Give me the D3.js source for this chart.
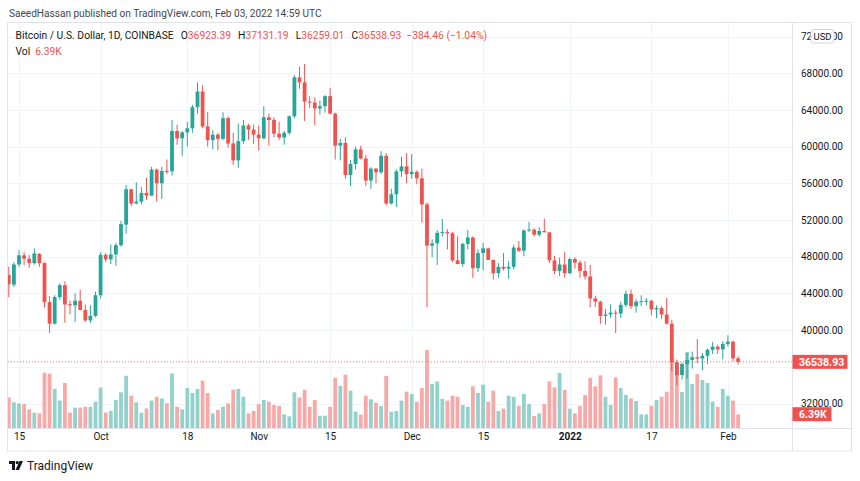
<!DOCTYPE html>
<html><head><meta charset="utf-8">
<script src="https://cdn.jsdelivr.net/npm/d3@7"></script>
<style>
html,body{margin:0;padding:0;background:#fff;}
svg{display:block;font-family:Roboto,"Liberation Sans",sans-serif;}
</style></head>
<body>
<svg id="chart" width="860" height="481"></svg>
<script>
// ---------- DATA (BTC/USD daily, Coinbase, Sep 13 2021 – Feb 3 2022) ----------
const firstDay = "2021-09-13";
const lastDay  = "2022-02-03";
const openP  = [46000,44950,47150,48150,47780,47300,48300,47300,43050,40700,43600,44900,42820,42700,43200,42200,41050,41550,
  43800,48200,47700,48250,49250,51500,55350,53800,54000,54950,54650,57500,56000,57350,57300,61700,60900,61550,62000,64300,66000,62200,60700,61300,60850,63100,60350,58500,60600,62300,61850,
  61300,60900,63200,62900,61400,61000,61500,63300,67550,67000,64900,64800,64150,64400,65500,63600,60100,60400,56900,58100,59700,58700,56300,57600,57200,59000,53800,54800,57300,57850,
  57000,57250,56550,53700,49200,49450,50600,50700,50550,47600,47200,49400,50100,46750,48400,48900,47650,46200,46900,46700,46900,49000,48650,50850,50950,50400,50800,50650,47600,46450,47150,
  46200,47750,47350,46450,45850,43450,43100,41550,41700,41900,41800,42750,43950,42600,43100,43150,43200,42250,42400,41700,40700,36500,35100,36300,36750,37050,36900,37200,37850,38200,37900,
  38500,38750,36923.39];
const highP  = [46900,47400,48700,48500,48200,48900,48400,47400,43700,43800,45100,45300,43200,44000,44400,42800,42700,44200,
  48500,48400,49350,49500,51900,55800,55400,56100,55600,56600,57800,57600,57800,58600,62900,62400,61700,62700,64550,67000,66700,63750,61800,61500,63750,63300,61500,62500,62900,62500,62400,
  62300,64400,63600,63200,62700,61700,63400,67800,68700,69000,65500,65400,65000,65600,66400,63700,60850,61000,58500,60000,60100,59100,57750,57650,59500,59300,55400,57500,58900,59300,
  59200,57400,57600,53900,49900,50900,52100,51000,50700,50200,49500,50900,50200,48800,49500,49000,47700,47300,48400,47500,49300,49700,51000,51800,51100,51200,52150,50700,48100,47900,48500,
  47900,47950,47600,47500,47100,43750,43200,42300,42800,42200,43100,44300,44400,43400,43800,43500,43300,42700,42600,43500,41100,36800,36500,37500,37650,39000,37500,38000,38700,38400,38800,
  39450,38850,37131.19];
const lowP   = [43600,44700,46900,47100,46800,47150,46900,42500,39700,40600,43300,40800,41700,40900,42150,40900,40800,41400,
  43450,47400,47200,47000,49100,50500,53500,53700,53700,54200,54600,54000,54300,57000,56850,60200,59000,60000,61500,63600,62000,60000,59700,59600,60700,59900,58000,57700,60300,60750,60300,
  59600,60800,60100,61000,60700,60200,61300,63100,66300,62800,64200,62300,63500,63700,63500,58600,58500,56500,55700,57500,58600,55700,55400,56000,57000,53600,53700,53400,56700,56000,
  56500,55900,51700,42500,47950,47100,50200,48800,47400,47200,46900,48800,45700,46350,46500,47650,45500,45700,46500,45600,46600,48500,48050,50700,50200,50200,50700,47300,46100,45900,45700,
  46100,46700,45700,45500,42500,42500,40700,40600,41300,39650,41300,42500,42300,41900,42600,42700,41600,41300,41200,40600,35500,34000,34600,34700,35800,36400,35600,36300,37400,37400,36800,
  38200,36600,36259.01];
const closeP = [45000,47150,48150,47780,47300,48350,47300,43050,40700,43600,44900,42800,42700,43200,42200,41050,41550,43800,
  48200,47700,48250,49250,51550,55350,53800,54000,54950,54650,57500,56000,57350,57300,61700,60900,61550,62000,64300,66000,62200,60700,61300,60850,63100,60350,58500,60600,62300,61850,61300,
  60900,63200,62900,61400,61000,61500,63300,67550,67000,64900,64800,64150,64400,65500,63600,60100,60400,56900,58100,59700,58700,56300,57600,57200,59000,53800,54800,57300,57850,57000,
  57250,56550,53700,49200,49450,50600,50700,50550,47600,47200,49400,50100,46750,48400,48900,47650,46200,46900,46700,46900,49000,48650,50850,50950,50400,50800,50650,47600,46450,47150,46200,
  47750,47350,46450,45850,43450,43100,41550,41700,41900,41800,42750,43950,42600,43100,43150,43200,42250,42400,41700,40700,36500,35100,36300,36750,37050,36900,37200,37850,38200,37900,38500,
  38750,36920,36538.93];
const volumeK = [14.4,12.1,11.6,11.3,8.8,7.2,6.9,26.0,25.6,18.4,12.9,21.2,7.3,9.6,9.6,10.0,10.0,12.4,
  19.1,7.3,8.1,13.2,16.8,24.6,15.2,12.1,7.2,9.2,12.9,14.7,13.9,11.6,25.7,10.0,8.8,18.8,16.5,18.4,22.3,16.5,6.9,8.5,10.0,11.6,18.0,18.4,14.7,6.9,8.0,
  11.3,13.2,12.4,10.8,10.4,6.4,5.5,16.8,14.4,18.0,10.0,13.2,5.8,5.8,10.0,23.6,19.9,25.1,17.6,7.7,6.4,15.2,13.5,11.9,10.4,24.5,7.7,8.0,12.9,17.1,
  16.0,12.4,18.8,36.7,20.7,21.9,13.7,12.9,15.2,14.7,10.8,10.0,19.6,16.5,20.4,12.4,17.6,8.0,9.1,15.2,14.7,10.4,16.0,11.3,5.7,6.9,11.3,21.9,19.1,25.9,17.9,
  9.1,6.9,10.4,15.5,23.6,19.6,24.8,14.7,10.8,23.8,18.8,15.5,13.9,12.7,6.4,6.4,10.4,13.2,14.7,17.1,33.0,28.3,17.0,35.8,20.7,25.4,22.6,21.2,12.4,10.0,18.4,
  15.2,12.9,6.39];
const gridPrices = [32000,36000,40000,44000,48000,52000,56000,60000,64000,68000,72000];
// 36000.00 sits under the last-price badge in the reference, so it is not labelled
const priceTickLabels = [32000,40000,44000,48000,52000,56000,60000,64000,68000,72000];
const timeTicks = [
  {d:"2021-09-15", t:"15"},{d:"2021-10-01", t:"Oct"},{d:"2021-10-18", t:"18"},{d:"2021-11-01", t:"Nov"},
  {d:"2021-11-15", t:"15"},{d:"2021-12-01", t:"Dec"},{d:"2021-12-15", t:"15"},{d:"2022-01-01", t:"2022", bold:true},
  {d:"2022-01-17", t:"17"},{d:"2022-02-01", t:"Feb"}];
const headerText = "SaeedHassan published on TradingView.com, Feb 03, 2022 14:59 UTC";
const symbolText = "Bitcoin / U.S. Dollar, 1D, COINBASE";
const lastChange = "\u2212384.46 (\u22121.04%)";
const lastVolText = "6.39K";

// ---------- SETUP ----------
const parse = d3.timeParse("%Y-%m-%d");
const dates = d3.timeDay.range(parse(firstDay), d3.timeDay.offset(parse(lastDay), 1));
const bars = dates.map((d,i)=>({date:d,o:openP[i],h:highP[i],l:lowP[i],c:closeP[i],v:volumeK[i]}));

const UP = "#26a69a", DOWN = "#ef5350";
const UPV = "#93d2cc", DOWNV = "#f7a9a8";
const BORDER = "#e0e3eb", GRID = "#f0f3fa", TXT = "#131722";

const L = 8, R = 792, T = 23, B = 428.5;
const svg = d3.select("#chart");

const x = d3.scaleTime().domain([parse("2021-09-15"), parse("2022-02-01")]).range([19, 727.9]);
const y = d3.scaleLinear().domain([32000, 72000]).range([403.5, 36.5]);
const yv = d3.scaleLinear().domain([0, 40]).range([428, 343]);
const bw = 3.8;

svg.append("defs").append("clipPath").attr("id","plot")
  .append("rect").attr("x",L).attr("y",T).attr("width",R-L).attr("height",B-T);

// grid
const grid = svg.append("g");
grid.selectAll("line.h").data(gridPrices).join("line")
  .attr("x1",L).attr("x2",R).attr("y1",d=>Math.round(y(d))+0.5).attr("y2",d=>Math.round(y(d))+0.5)
  .attr("stroke",GRID).attr("stroke-width",1);
grid.selectAll("line.v").data(timeTicks).join("line")
  .attr("y1",T).attr("y2",B).attr("x1",d=>Math.round(x(parse(d.d)))+0.5).attr("x2",d=>Math.round(x(parse(d.d)))+0.5)
  .attr("stroke",GRID).attr("stroke-width",1);

const plot = svg.append("g").attr("clip-path","url(#plot)");

// volume
plot.append("g").selectAll("rect").data(bars).join("rect")
  .attr("x",d=>x(d.date)-bw/2).attr("width",bw)
  .attr("y",d=>yv(d.v)).attr("height",d=>yv(0)-yv(d.v))
  .attr("fill",d=>d.c>=d.o?UPV:DOWNV);

// last price line
plot.append("line").attr("x1",L).attr("x2",R)
  .attr("y1",y(closeP[closeP.length-1])).attr("y2",y(closeP[closeP.length-1]))
  .attr("stroke",DOWN).attr("stroke-width",1).attr("stroke-dasharray","1,2").attr("opacity",0.8);

// candles
const cg = plot.append("g").selectAll("g").data(bars).join("g");
cg.append("line")
  .attr("x1",d=>x(d.date)).attr("x2",d=>x(d.date))
  .attr("y1",d=>y(d.h)).attr("y2",d=>y(d.l))
  .attr("stroke",d=>d.c>=d.o?UP:DOWN).attr("stroke-width",1);
cg.append("rect")
  .attr("x",d=>x(d.date)-bw/2).attr("width",bw)
  .attr("y",d=>y(Math.max(d.o,d.c)))
  .attr("height",d=>Math.max(1,Math.abs(y(d.o)-y(d.c))))
  .attr("fill",d=>d.c>=d.o?UP:DOWN);

// frame
svg.append("rect").attr("x",7.5).attr("y",22.5).attr("width",844).attr("height",428.5)
  .attr("fill","none").attr("stroke",BORDER);
svg.append("line").attr("x1",792.5).attr("x2",792.5).attr("y1",22.5).attr("y2",451).attr("stroke",BORDER);
svg.append("line").attr("x1",7.5).attr("x2",852).attr("y1",428.5).attr("y2",428.5).attr("stroke",BORDER);

// price axis
const yAxis = d3.axisRight(y).tickValues(priceTickLabels).tickSize(0).tickPadding(0)
  .tickFormat(d=>d3.format(".2f")(d));
const ya = svg.append("g").attr("transform","translate(801,0)").call(yAxis);
ya.select(".domain").remove();
ya.selectAll("text").attr("fill",TXT).style("font-size","10px").style("font-family","Roboto");

// time axis
const xAxis = d3.axisBottom(x).tickValues(timeTicks.map(d=>parse(d.d))).tickSize(0).tickPadding(0)
  .tickFormat((d,i)=>timeTicks[i].t);
const xa = svg.append("g").attr("transform","translate(0,433)").call(xAxis);
xa.select(".domain").remove();
xa.selectAll("text").attr("fill",TXT).style("font-size","10px").style("font-family","Roboto")
  .style("font-weight",(d,i)=>timeTicks[i].bold?"bold":"normal");

// USD badge (drawn over the 72000.00 label, as in the reference)
svg.append("rect").attr("x",811).attr("y",29.5).attr("width",23).attr("height",13.5).attr("rx",3)
  .attr("fill","#fff").attr("stroke","#d1d4dc");
svg.append("text").attr("x",822.5).attr("y",39.8).attr("text-anchor","middle")
  .attr("fill",TXT).style("font-size","9.5px").text("USD");

// last price label
const lp = y(closeP[closeP.length-1]);
svg.append("rect").attr("x",792.5).attr("y",lp-7).attr("width",55).attr("height",14).attr("fill",DOWN);
svg.append("text").attr("x",799).attr("y",lp+3.7).attr("fill","#fff").style("font-size","10.5px")
  .style("font-weight","bold").text(d3.format(".2f")(closeP[closeP.length-1]));
// last volume label
const lv = 414.2;
svg.append("rect").attr("x",792.5).attr("y",lv-7).attr("width",39).attr("height",14).attr("fill",DOWN);
svg.append("text").attr("x",799).attr("y",lv+3.7).attr("fill","#fff").style("font-size","10.5px")
  .style("font-weight","bold").text(lastVolText);

// text fitting helper
function fit(sel, target){
  let fs = parseFloat(sel.style("font-size"));
  const w = sel.node().getComputedTextLength();
  if(w>0) sel.style("font-size",(fs*target/w).toFixed(2)+"px");
}

// header
const hdr = svg.append("text").attr("x",9).attr("y",17).attr("fill","#434651")
  .style("font-size","11px").text(headerText);
fit(hdr, 313);

// legend
const fmt2 = d3.format(".2f");
const lg = svg.append("text").attr("x",15.5).attr("y",39).attr("fill",TXT).style("font-size","10.3px");
lg.append("tspan").text(symbolText);
const last = bars[bars.length-1];
[["O",last.o],["H",last.h],["L",last.l],["C",last.c]].forEach(([k,v])=>{
  lg.append("tspan").attr("fill",TXT).attr("dx",7).text(k);
  lg.append("tspan").attr("fill",DOWN).text(fmt2(v));
});
lg.append("tspan").attr("fill",DOWN).attr("dx",5).text(lastChange);

const vl = svg.append("text").attr("x",15.5).attr("y",55).attr("fill",TXT).style("font-size","10.3px");
vl.append("tspan").text("Vol");
vl.append("tspan").attr("fill",DOWN).attr("dx",5).text(lastVolText);

// TradingView logo
const logo = svg.append("g").attr("transform","translate(9,461)").attr("fill",TXT);
logo.append("path").attr("d","M0 0 H6 V9 H3 V3 H0 Z");
logo.append("circle").attr("cx",8.2).attr("cy",1.6).attr("r",1.6);
logo.append("path").attr("d","M10.5 0 H14 L10 9 H6.5 Z");
svg.append("text").attr("x",27).attr("y",470).attr("fill",TXT).style("font-size","12px").text("TradingView");
</script>
</body></html>
